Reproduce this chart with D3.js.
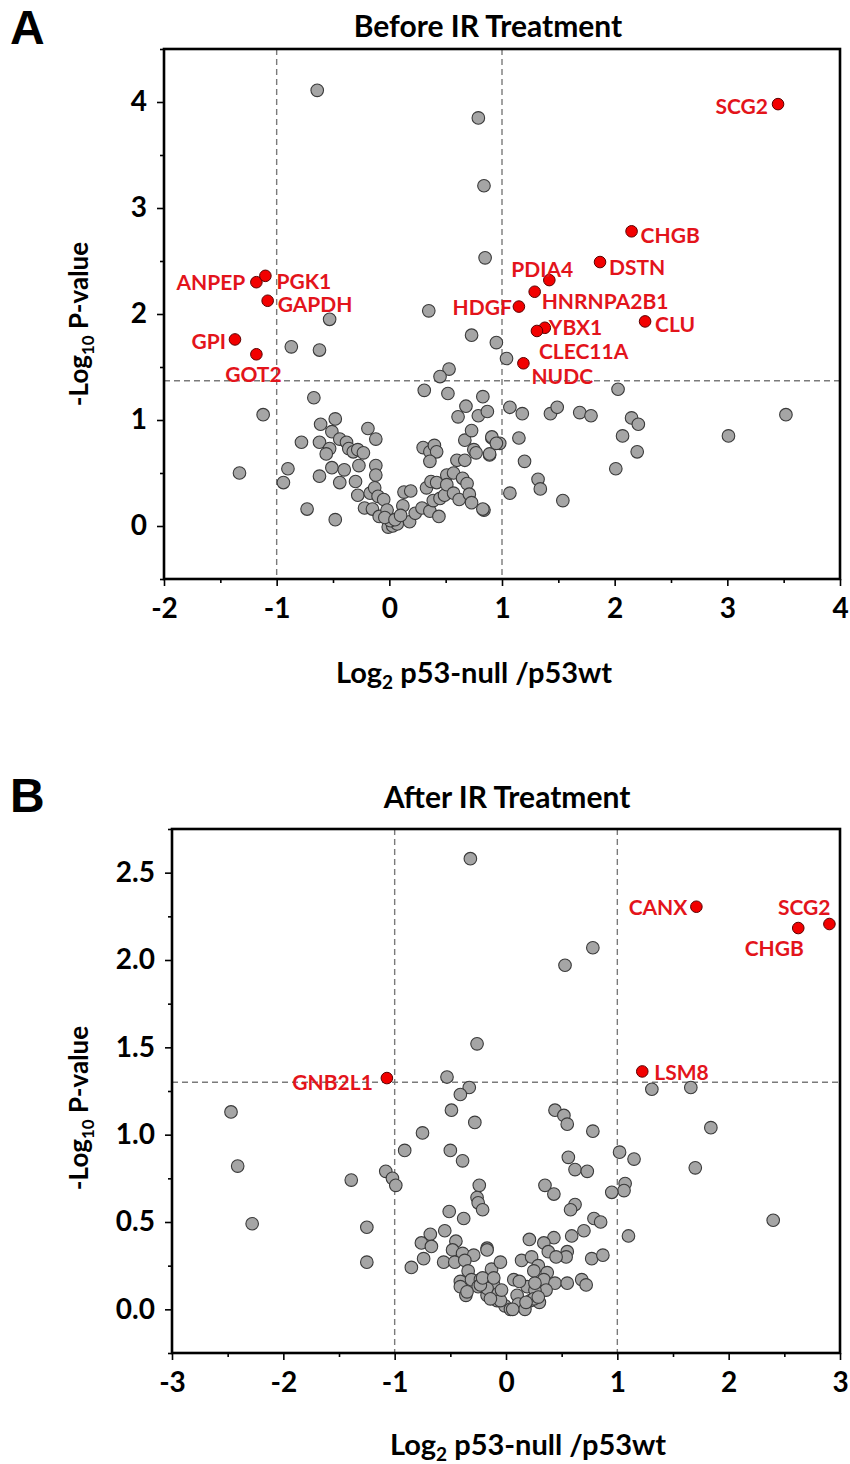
<!DOCTYPE html>
<html>
<head>
<meta charset="utf-8">
<script src="https://cdn.jsdelivr.net/npm/d3@7"></script>
<style>
  body { margin: 0; background: #fff; }
  svg { display: block; font-family: Lato, "Open Sans", sans-serif; font-weight: 700; }
</style>
</head>
<body>
<svg id="fig" width="850" height="1464"></svg>
<script>
// ---- data: [log2 fold change, -log10 p] ----
const beforeOther = [
  [-0.64,4.11],[0.79,3.85],[0.84,3.21],[0.85,2.53],[0.35,2.03],[-0.53,1.95],[0.73,1.80],[0.95,1.73],
  [-0.87,1.69],[-0.62,1.66],[1.04,1.58],[0.53,1.48],[0.45,1.41],[2.03,1.29],[0.31,1.28],[0.52,1.25],
  [0.83,1.22],[-0.67,1.21],[0.68,1.13],[0.61,1.03],[0.79,1.04],[0.87,1.08],[-1.12,1.05],[1.07,1.12],
  [1.18,1.06],[1.43,1.06],[1.49,1.12],[1.69,1.07],[1.79,1.04],[2.15,1.02],[2.21,0.96],[3.52,1.05],
  [3.01,0.85],[2.07,0.85],[2.20,0.70],[2.01,0.54],[0.91,0.83],[0.98,0.78],[1.15,0.83],[0.89,0.67],
  [1.20,0.61],[1.32,0.44],[1.34,0.35],[1.07,0.31],[1.54,0.24],[0.84,0.15],
  [-1.33,0.50],[-0.78,0.79],[-0.61,0.96],[-0.48,1.01],[-0.51,0.89],[-0.62,0.79],[-0.53,0.73],[-0.56,0.68],
  [-0.44,0.82],[-0.38,0.79],[-0.36,0.73],[-0.32,0.70],[-0.28,0.72],[-0.23,0.69],[-0.19,0.92],[-0.12,0.82],
  [-0.90,0.54],[-0.94,0.41],[-0.73,0.16],[-0.48,0.06],[-0.62,0.47],[-0.51,0.55],[-0.40,0.53],[-0.44,0.41],
  [-0.30,0.42],[-0.27,0.57],[-0.12,0.57],[-0.12,0.48],[-0.28,0.29],[-0.17,0.31],[-0.13,0.36],[-0.10,0.28],
  [-0.05,0.25],[-0.22,0.17],[-0.15,0.16],[-0.09,0.09],[-0.02,0.15],[-0.01,-0.01],[0.03,0.00],[0.07,0.02],
  [0.13,0.32],[0.19,0.33],[0.12,0.19],[0.18,0.04],[0.23,0.12],[0.29,0.17],[0.36,0.14],[0.44,0.09],
  [0.33,0.36],[0.37,0.42],[0.42,0.41],[0.39,0.24],[0.45,0.26],[0.49,0.29],[0.51,0.48],[0.57,0.50],
  [0.51,0.39],[0.57,0.31],[0.62,0.25],[0.65,0.45],[0.69,0.40],[0.71,0.30],[0.73,0.22],[0.83,0.16],
  [0.30,0.74],[0.36,0.70],[0.40,0.76],[0.42,0.70],[0.36,0.61],[0.60,0.62],[0.67,0.62],[0.67,0.81],
  [0.73,0.90],[0.75,0.72],[0.77,0.69],[0.89,0.68],[0.91,0.84],[0.95,0.78],
  [0.01,0.05],[-0.04,0.08],[0.05,0.06],[0.10,0.10]
];
const beforeHits = [
  {gene:"SCG2", lfc:3.45, p:3.98}, {gene:"CHGB", lfc:2.15, p:2.78}, {gene:"DSTN", lfc:1.87, p:2.49},
  {gene:"PDIA4", lfc:1.42, p:2.32}, {gene:"HNRNPA2B1", lfc:1.29, p:2.21}, {gene:"HDGF", lfc:1.15, p:2.07},
  {gene:"YBX1", lfc:1.38, p:1.87}, {gene:"CLEC11A", lfc:1.31, p:1.84}, {gene:"CLU", lfc:2.27, p:1.93},
  {gene:"NUDC", lfc:1.19, p:1.535}, {gene:"ANPEP", lfc:-1.18, p:2.30}, {gene:"PGK1", lfc:-1.10, p:2.36},
  {gene:"GAPDH", lfc:-1.08, p:2.125}, {gene:"GPI", lfc:-1.37, p:1.76}, {gene:"GOT2", lfc:-1.18, p:1.62}
];

const afterOther = [
  [-0.32,2.58],[0.78,2.07],[0.53,1.97],[-0.26,1.52],[-0.53,1.33],[-0.33,1.27],[-0.41,1.23],[-0.49,1.14],
  [-0.28,1.07],[-2.47,1.13],[-2.41,0.82],[-2.28,0.49],[-1.39,0.74],[-1.25,0.47],[-1.25,0.27],[-1.08,0.79],
  [-1.02,0.75],[-0.99,0.71],[-0.91,0.91],[-0.75,1.01],[-0.50,0.91],[-0.39,0.85],[-0.24,0.71],[-0.26,0.64],
  [-0.25,0.61],[-0.21,0.57],[-0.51,0.56],[-0.38,0.52],[-0.68,0.43],[-0.76,0.38],[-0.67,0.36],[-0.55,0.45],
  [-0.45,0.39],[-0.48,0.34],[-0.39,0.32],[-0.29,0.31],[-0.74,0.29],[-0.85,0.24],[-0.56,0.27],[-0.46,0.27],
  [-0.37,0.28],[-0.17,0.35],[-0.13,0.23],[-0.34,0.22],[-0.41,0.16],[-0.31,0.17],[-0.41,0.13],[-0.23,0.17],
  [-0.25,0.13],[-0.36,0.08],[-0.17,0.08],[-0.11,0.14],[-0.08,0.05],
  [1.31,1.26],[1.66,1.27],[1.84,1.04],[1.70,0.81],[2.40,0.51],[0.44,1.14],[0.52,1.11],[0.55,1.06],
  [0.78,1.02],[1.02,0.90],[1.15,0.86],[0.56,0.87],[0.62,0.80],[0.73,0.79],[1.07,0.72],[1.06,0.68],
  [0.95,0.67],[0.35,0.71],[0.43,0.66],[0.62,0.60],[0.58,0.57],[0.79,0.52],[0.85,0.50],[1.10,0.42],
  [0.70,0.45],[0.59,0.42],[0.43,0.41],[0.34,0.38],[0.21,0.40],[0.38,0.33],[0.55,0.33],[0.54,0.30],
  [0.45,0.30],[0.77,0.29],[0.87,0.31],[-0.17,0.34],[-0.05,0.27],[0.14,0.28],[0.23,0.30],[0.29,0.25],
  [0.25,0.22],[0.37,0.21],[0.34,0.17],[0.44,0.15],[0.55,0.15],[0.68,0.17],[0.72,0.14],[0.36,0.11],
  [0.07,0.17],[0.19,0.13],[0.26,0.11],[0.10,0.08],[-0.17,0.12],[-0.07,0.09],[-0.01,0.02],[0.04,0.00],
  [0.16,0.01],[0.22,0.05],[0.30,0.04],[-0.05,0.05],[0.11,0.03],[0.17,0.00],[-0.14,0.06],[0.25,0.06],
  [-0.23,0.14],[-0.35,0.10],[-0.21,0.18],[-0.11,0.18],[-0.04,0.11],[0.06,0.00],[0.18,0.04],[0.29,0.07],
  [0.26,0.15],[0.12,0.16]
];
const afterHits = [
  {gene:"CANX", lfc:1.71, p:2.305}, {gene:"SCG2", lfc:2.905, p:2.206}, {gene:"CHGB", lfc:2.625, p:2.183},
  {gene:"GNB2L1", lfc:-1.07, p:1.324}, {gene:"LSM8", lfc:1.224, p:1.362}
];

const beforeXTicks = [-2, -1, 0, 1, 2, 3, 4];
const beforeYTicks = [0, 1, 2, 3, 4];
const afterXTicks = [-3, -2, -1, 0, 1, 2, 3];
const afterYTicks = [0, 0.5, 1.0, 1.5, 2.0, 2.5];

// label offsets from the dot (px) and anchor
const labelPlaceA = {
  SCG2:[-10,1,"end"], CHGB:[9,3,"start"], DSTN:[9,4,"start"], PDIA4:[-7,-12,"middle"],
  HNRNPA2B1:[7,9,"start"], HDGF:[-7,0,"end"], YBX1:[4,-1,"start"], CLEC11A:[2,20,"start"],
  CLU:[10,2,"start"], NUDC:[8,12,"start"], ANPEP:[-11,-1,"end"], PGK1:[11,5,"start"],
  GAPDH:[10,3,"start"], GPI:[-9,1,"end"], GOT2:[-3,19,"middle"]
};
const labelPlaceB = {
  CANX:[-9,0,"end"], SCG2:[1,-18,"end"], CHGB:[-24,19,"middle"], GNB2L1:[-14,3,"end"], LSM8:[12,0,"start"]
};

const svg = d3.select("#fig");
const RED_TEXT = "#e3141b";

function drawPanel(p) {
  const g = svg.append("g");
  const x = d3.scaleLinear().domain(p.xDomain).range([p.left, p.right]);
  const y = d3.scaleLinear().domain(p.yDomain).range([p.bottom, p.top]);

  // cut-off lines
  g.selectAll(".vcut").data(p.xCuts).join("line")
    .attr("x1", d => x(d)).attr("x2", d => x(d))
    .attr("y1", p.top).attr("y2", p.bottom)
    .attr("stroke", "#7a7a7a").attr("stroke-width", 1.4).attr("stroke-dasharray", "6,4");
  g.append("line")
    .attr("x1", p.left).attr("x2", p.right)
    .attr("y1", y(p.yCut)).attr("y2", y(p.yCut))
    .attr("stroke", "#7a7a7a").attr("stroke-width", 1.4).attr("stroke-dasharray", "6,4");

  // minor ticks
  const xMinor = d3.range(p.xDomain[0] + 0.5, p.xDomain[1], 1);
  g.append("g").attr("transform", `translate(0,${p.bottom})`)
    .call(d3.axisBottom(x).tickValues(xMinor).tickSize(4).tickFormat(""))
    .call(a => a.select(".domain").remove());
  g.append("g").attr("transform", `translate(${p.left},0)`)
    .call(d3.axisLeft(y).tickValues(p.yMinor).tickSize(4).tickFormat(""))
    .call(a => a.select(".domain").remove());

  // major ticks
  const xa = g.append("g").attr("transform", `translate(0,${p.bottom})`)
    .call(d3.axisBottom(x).tickValues(p.xTicks).tickSize(7).tickPadding(12).tickFormat(d => String(d)));
  const ya = g.append("g").attr("transform", `translate(${p.left},0)`)
    .call(d3.axisLeft(y).tickValues(p.yTicks).tickSize(7).tickPadding(10).tickFormat(p.yFormat));
  [xa, ya].forEach(a => {
    a.select(".domain").remove();
    a.selectAll("text").attr("fill", "#000").style("font-size", "28px")
      .style("font-family", "Lato, 'Open Sans', sans-serif").style("font-weight", 700);
  });
  g.selectAll(".tick line").attr("stroke", "#000").attr("stroke-width", 1.6);

  // frame
  g.append("rect")
    .attr("x", p.left).attr("y", p.top)
    .attr("width", p.right - p.left).attr("height", p.bottom - p.top)
    .attr("fill", "none").attr("stroke", "#000").attr("stroke-width", 2.6);

  // other proteins
  g.append("g").selectAll("circle").data(p.other).join("circle")
    .attr("cx", d => x(d[0])).attr("cy", d => y(d[1])).attr("r", 6.3)
    .attr("fill", "#a5a5a5").attr("stroke", "#3a3a3a").attr("stroke-width", 1.1);

  // significant proteins
  g.append("g").selectAll("circle").data(p.hits).join("circle")
    .attr("cx", d => x(d.lfc)).attr("cy", d => y(d.p)).attr("r", 5.8)
    .attr("fill", "#f20000").attr("stroke", "#5a0000").attr("stroke-width", 1);

  g.append("g").selectAll("text").data(p.hits).join("text")
    .attr("x", d => x(d.lfc) + p.place[d.gene][0])
    .attr("y", d => y(d.p) + p.place[d.gene][1])
    .attr("text-anchor", d => p.place[d.gene][2])
    .attr("dominant-baseline", "central")
    .attr("fill", RED_TEXT).style("font-size", "21px")
    .text(d => d.gene);

  // titles
  g.append("text").attr("x", p.titleX).attr("y", p.titleY).attr("text-anchor", "middle")
    .style("font-size", "30px").text(p.title);
  g.append("text").attr("x", 10).attr("y", p.letterY)
    .style("font-family", "'Liberation Sans', Arial, sans-serif").style("font-size", "48px")
    .text(p.letter);

  const xt = g.append("text").attr("x", p.xLabelX).attr("y", p.xLabelY)
    .attr("text-anchor", "middle").style("font-size", "29px");
  xt.append("tspan").text("Log");
  xt.append("tspan").attr("dy", 6).style("font-size", "19px").text("2");
  xt.append("tspan").attr("dy", -6).text(" p53-null /p53wt");

  const yt = g.append("text")
    .attr("transform", `translate(88,${p.yLabelY}) rotate(-90)`)
    .attr("text-anchor", "middle").style("font-size", "26px");
  yt.append("tspan").text("-Log");
  yt.append("tspan").attr("dy", 6).style("font-size", "17px").text("10");
  yt.append("tspan").attr("dy", -6).text(" P-value");
}

drawPanel({
  left: 164, right: 840, top: 49, bottom: 579,
  xDomain: [-2, 4], yDomain: [-0.5, 4.5],
  xTicks: beforeXTicks, yTicks: beforeYTicks, yMinor: [-0.5, 0.5, 1.5, 2.5, 3.5, 4.5],
  yFormat: d => String(d),
  xCuts: [-1, 1], yCut: 1.37,
  other: beforeOther, hits: beforeHits, place: labelPlaceA,
  title: "Before IR Treatment", titleX: 488, titleY: 37,
  letter: "A", letterY: 44,
  xLabelX: 474, xLabelY: 683, yLabelY: 324
});

drawPanel({
  left: 172, right: 840, top: 829, bottom: 1353,
  xDomain: [-3, 3], yDomain: [-0.25, 2.75],
  xTicks: afterXTicks, yTicks: afterYTicks, yMinor: [-0.25, 0.25, 0.75, 1.25, 1.75, 2.25, 2.75],
  yFormat: d => d.toFixed(1),
  xCuts: [-1, 1], yCut: 1.3,
  other: afterOther, hits: afterHits, place: labelPlaceB,
  title: "After IR Treatment", titleX: 507, titleY: 808,
  letter: "B", letterY: 812,
  xLabelX: 528, xLabelY: 1455, yLabelY: 1108
});
</script>
</body>
</html>
